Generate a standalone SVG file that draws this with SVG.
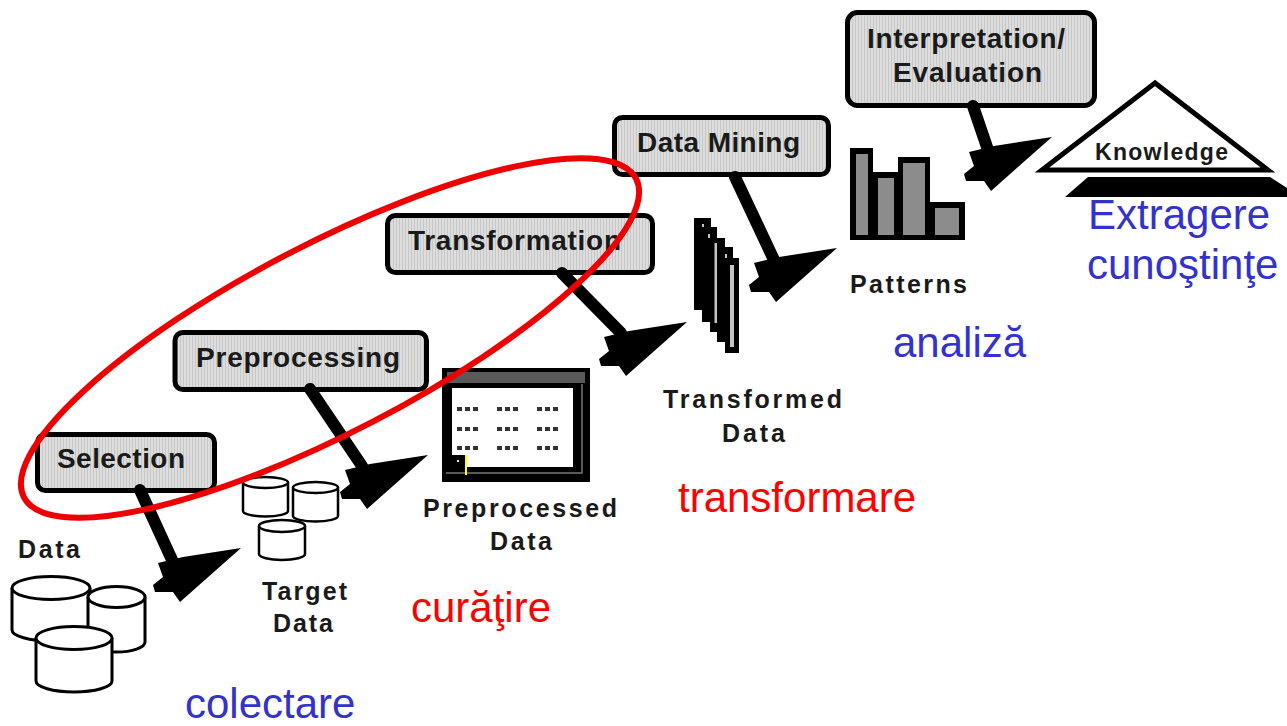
<svg xmlns="http://www.w3.org/2000/svg" width="1287" height="726" viewBox="0 0 1287 726">
<style>
.box{fill:url(#stripe);stroke:#000;stroke-width:5}
.bl{font-family:"Liberation Sans",Arial,sans-serif;font-weight:bold;fill:#1a1a1a;lengthAdjust:spacing}
.bx{font-size:28px}
.lb{font-size:25px}
.cyl{fill:#fff;stroke:#000;stroke-width:3}
.cyls{fill:#fff;stroke:#000;stroke-width:2.5}
.shaft{stroke:#000;stroke-width:12;stroke-linecap:round;fill:none}
.col{font-family:"Liberation Sans",Arial,sans-serif;font-size:42px}
.blue{fill:#3333cc}
.red{fill:#ff0000}
.dots{stroke:#333;stroke-width:4;stroke-dasharray:5 3}
</style>
<defs>
<pattern id="stripe" width="3" height="10" patternUnits="userSpaceOnUse">
<rect width="3" height="10" fill="#dddddd"/>
<rect width="1" height="10" fill="#c6c6c6"/>
</pattern>
<polygon id="head" points="0,0 -58,9 -83,15 -78,29 -88,37 -86,44 -68,44 -61,54" fill="#000"/>
</defs>
<rect width="1287" height="726" fill="#fff"/>

<g id="data">
<path class="cyl" d="M12,588 V630 A39,11 0 0 0 90,630 V588"/>
<ellipse class="cyl" cx="51" cy="588" rx="39" ry="11.5"/>
<path class="cyl" d="M88,597 V642 A28.5,10 0 0 0 145,642 V597"/>
<ellipse class="cyl" cx="116.5" cy="597" rx="28.5" ry="10.5"/>
<path class="cyl" d="M36,638 V681 A38,11 0 0 0 112,681 V638"/>
<ellipse class="cyl" cx="74" cy="638" rx="38" ry="11.5"/>
<text class="bl lb" x="18" y="558" textLength="62">Data</text>
</g>

<g id="selection">
<rect class="box" x="37.5" y="434.5" width="177" height="56" rx="8"/>
<text class="bl bx" x="57" y="468" textLength="128">Selection</text>
</g>

<g id="target-data">
<path class="cyls" d="M243,482.5 V511 A22.5,5.5 0 0 0 288,511 V482.5"/>
<ellipse class="cyls" cx="265.5" cy="482.5" rx="22.5" ry="5.5"/>
<path class="cyls" d="M293,487.5 V516 A22.5,5.5 0 0 0 338,516 V487.5"/>
<ellipse class="cyls" cx="315.5" cy="487.5" rx="22.5" ry="5.5"/>
<path class="cyls" d="M259,526 V554 A23,6 0 0 0 305,554 V526"/>
<ellipse class="cyls" cx="282" cy="526" rx="23" ry="6"/>
<text class="bl lb" x="262" y="600" textLength="85">Target</text>
<text class="bl lb" x="273" y="632" textLength="60">Data</text>
</g>

<g id="preprocessing">
<rect class="box" x="175" y="332.5" width="251.5" height="57" rx="8"/>
<text class="bl bx" x="196" y="367" textLength="204">Preprocessing</text>
</g>

<g id="preprocessed-data">
<rect x="442" y="368" width="148" height="114" fill="#000"/>
<rect x="447" y="372" width="138" height="11" fill="#5a5a5a"/>
<rect x="452" y="388" width="121" height="79" fill="#fff"/>
<rect x="452" y="455" width="13" height="12" fill="#000"/>
<polyline points="446,473 582,473 582,384" fill="none" stroke="#777" stroke-width="1.5"/>
<line x1="466" y1="455" x2="466" y2="475" stroke="#ffff00" stroke-width="2"/>
<rect x="457" y="460" width="2" height="2" fill="#ffff00"/>
<line class="dots" x1="457" y1="409" x2="478" y2="409"/>
<line class="dots" x1="497" y1="409" x2="518" y2="409"/>
<line class="dots" x1="537" y1="409" x2="558" y2="409"/>
<line class="dots" x1="457" y1="429" x2="478" y2="429"/>
<line class="dots" x1="497" y1="429" x2="518" y2="429"/>
<line class="dots" x1="537" y1="429" x2="558" y2="429"/>
<line class="dots" x1="457" y1="448" x2="478" y2="448"/>
<line class="dots" x1="497" y1="448" x2="518" y2="448"/>
<line class="dots" x1="537" y1="448" x2="558" y2="448"/>
<text class="bl lb" x="423" y="517" textLength="194">Preprocessed</text>
<text class="bl lb" x="490" y="550" textLength="62">Data</text>
</g>

<g id="transformation">
<rect class="box" x="387.5" y="215.5" width="265" height="57" rx="8"/>
<text class="bl bx" x="408" y="250" textLength="213">Transformation</text>
</g>

<g id="transformed-data">
<polygon fill="#000" points="694,218 711,218 711,227 717,227 717,238 725,238 725,247 733,247 733,258 739,258 739,353 725,353 725,342 717,342 717,332 710,332 710,322 702,322 702,310 694,310"/>
<rect x="714.5" y="243" width="2.5" height="80" fill="#c4c4c4"/>
<rect x="730" y="265" width="4" height="82" fill="#c4c4c4"/>
<rect x="702" y="224" width="2" height="3" fill="#c4c4c4"/>
<rect x="708" y="234" width="2" height="4" fill="#c4c4c4"/>
<rect x="725" y="254" width="2" height="4" fill="#c4c4c4"/>
<text class="bl lb" x="663" y="408" textLength="179">Transformed</text>
<text class="bl lb" x="722" y="442" textLength="63">Data</text>
</g>

<g id="data-mining">
<rect class="box" x="614.5" y="117.5" width="214" height="57" rx="8"/>
<text class="bl bx" x="637" y="152" textLength="163">Data Mining</text>
</g>

<g id="patterns">
<rect x="850" y="148" width="23" height="92" fill="#000"/>
<rect x="873" y="172" width="25" height="68" fill="#000"/>
<rect x="898" y="157" width="32" height="83" fill="#000"/>
<rect x="930" y="202" width="35" height="38" fill="#000"/>
<rect x="856" y="154" width="12" height="81" fill="#8c8c8c"/>
<rect x="878" y="178" width="16" height="57" fill="#8c8c8c"/>
<rect x="903" y="163" width="22" height="72" fill="#8c8c8c"/>
<rect x="935" y="208" width="24" height="27" fill="#8c8c8c"/>
<text class="bl lb" x="850" y="293" textLength="117">Patterns</text>
</g>

<g id="interpretation-evaluation">
<rect class="box" x="847.5" y="12.5" width="247" height="93" rx="10"/>
<text class="bl bx" x="867" y="48" textLength="198">Interpretation/</text>
<text class="bl bx" x="893" y="82" textLength="149">Evaluation</text>
</g>

<g id="knowledge">
<polygon points="1088,177 1270,177 1287,188 1287,197 1065,197" fill="#000"/>
<polygon points="1155,83 1042,170 1268,170" fill="#fff" stroke="#000" stroke-width="5" stroke-linejoin="miter"/>
<text class="bl" x="1095" y="160" font-size="23" textLength="133">Knowledge</text>
</g>

<g id="connectors">
<line class="shaft" x1="140" y1="490" x2="173" y2="562"/>
<use href="#head" transform="translate(241,548)"/>
<line class="shaft" x1="310" y1="389" x2="362" y2="466"/>
<use href="#head" transform="translate(428,455)"/>
<line class="shaft" x1="562" y1="273" x2="621" y2="333"/>
<use href="#head" transform="translate(687,322)"/>
<line class="shaft" x1="735" y1="177" x2="774" y2="260"/>
<use href="#head" transform="translate(837,248)"/>
<line class="shaft" x1="973" y1="106" x2="988" y2="150"/>
<use href="#head" transform="translate(1052,137)"/>
</g>

<g id="stage-labels">
<text class="col blue" x="1088" y="229">Extragere</text>
<text class="col blue" x="1087" y="279">cunoştinţe</text>
<text class="col blue" x="893" y="357" font-size="39">analiză</text>
<text class="col red" x="678" y="512">transformare</text>
<text class="col red" x="411" y="622">curăţire</text>
<text class="col blue" x="185" y="718" font-size="41">colectare</text>
</g>

<g id="highlight">
<ellipse cx="330" cy="338" rx="345" ry="94" transform="rotate(-27.5 330 338)" fill="none" stroke="#ee0000" stroke-width="6"/>
</g>
</svg>
